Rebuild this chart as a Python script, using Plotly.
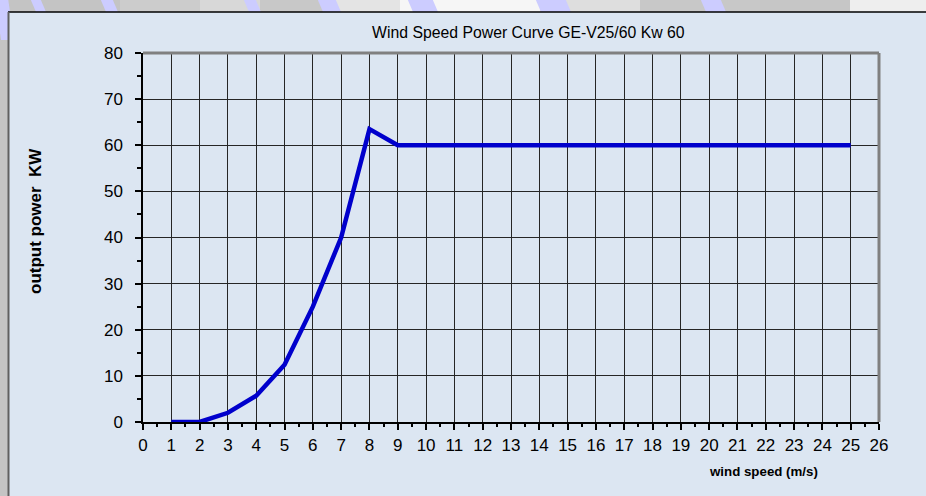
import plotly.graph_objects as go

wind_speed = [1, 2, 3, 4, 5, 6, 7, 8, 9, 10, 11, 12, 13, 14, 15, 16, 17, 18, 19, 20, 21, 22, 23, 24, 25]
power_kw = [0, 0, 2, 5.7, 12.4, 25, 40, 63.5, 60, 60, 60, 60, 60, 60, 60, 60, 60, 60, 60, 60, 60, 60, 60, 60, 60]
x_ticks = list(range(0, 27))
y_ticks = list(range(0, 81, 10))

title_text = "Wind Speed Power Curve GE-V25/60 Kw 60"
x_title = "wind speed (m/s)"
y_title = "output power&nbsp;&nbsp;KW"

W, H = 926, 496
L, R, T, B = 143, 47, 53, 74
PW, PH = W - L - R, H - T - B


def px(x):
    return (x - L) / PW


def py(y):
    return (H - B - y) / PH


fig = go.Figure()
fig.add_trace(go.Scatter(
    x=wind_speed, y=power_kw, mode="lines",
    line=dict(color="#0000CC", width=4.5),
    hoverinfo="x+y", showlegend=False,
))

shapes = []
bands = [(-10, 120, "#c4c4c4"), (120, 200, "#cccccc"), (200, 260, "#d8d8d8"), (260, 330, "#c8c8c8"),
         (330, 400, "#e4e4e4"), (400, 540, "#f6f6f6"), (540, 640, "#dedede"), (640, 760, "#c8c8c8"),
         (760, 850, "#c6c6c6"), (850, 936, "#eeeeee")]
for a, b, c in bands:
    shapes.append(dict(type="rect", xref="paper", yref="paper", x0=px(a), x1=px(b), y0=py(H + 10), y1=py(-10),
                       fillcolor=c, line=dict(width=0), layer="below"))
stripes = [(-5, -2, 8, 40), (30, -2, 40, 12), (100, -2, 112, 12), (243, -2, 255, 12), (317, -2, 335, 12),
           (407, -2, 432, 12), (535, -2, 565, 12), (700, -2, 720, 12)]
for x0, y0, x1, y1 in stripes:
    path = "M {a},{b} L {c},{b} L {d},{e} L {f},{e} Z".format(
        a=px(x0), b=py(y0), c=px(x1), d=px(x1 + 6), e=py(y1), f=px(x0 + 6))
    shapes.append(dict(type="path", xref="paper", yref="paper", path=path,
                       fillcolor="#ccccff", line=dict(width=0), layer="below"))
shapes.append(dict(type="rect", xref="paper", yref="paper", x0=px(8), x1=px(W + 5), y0=py(H + 5), y1=py(12),
                   fillcolor="#dce6f2", line=dict(width=0), layer="below"))
shapes.append(dict(type="line", xref="paper", yref="paper", x0=px(8), x1=px(W + 5), y0=py(12), y1=py(12),
                   line=dict(color="#000000", width=1.5), layer="below"))
shapes.append(dict(type="line", xref="paper", yref="paper", x0=px(8.5), x1=px(8.5), y0=py(12), y1=py(H + 5),
                   line=dict(color="#606060", width=2), layer="below"))
shapes.append(dict(type="line", xref="paper", yref="paper", x0=0, x1=1, y0=1, y1=1,
                   line=dict(color="#808080", width=3)))
shapes.append(dict(type="line", xref="paper", yref="paper", x0=1, x1=1, y0=0, y1=1,
                   line=dict(color="#808080", width=3)))

annotations = [
    dict(text=title_text, xref="paper", yref="paper", x=px(528), y=py(32), showarrow=False,
         xanchor="center", yanchor="middle", font=dict(size=15.8, color="#000000")),
    dict(text="<b>" + y_title + "</b>", xref="paper", yref="paper", x=px(35), y=py(221), showarrow=False,
         textangle=-90, xanchor="center", yanchor="middle", font=dict(size=17, color="#000000")),
    dict(text="<b>" + x_title + "</b>", xref="paper", yref="paper", x=px(763), y=py(471), showarrow=False,
         xanchor="center", yanchor="middle", font=dict(size=13.3, color="#000000")),
]

fig.update_layout(
    width=W, height=H,
    margin=dict(l=L, r=R, t=T, b=B, pad=0),
    paper_bgcolor="#c8c8c8",
    plot_bgcolor="#c0c0c0",
    font=dict(family="Liberation Sans, Arial, sans-serif", size=17, color="#000000"),
    shapes=shapes,
    annotations=annotations,
    showlegend=False,
    xaxis=dict(
        range=[0, 26], tickvals=x_ticks, ticktext=[str(v) for v in x_ticks],
        showgrid=True, gridcolor="#262626", gridwidth=1,
        showline=True, linecolor="#000000", linewidth=1.5,
        ticks="outside", ticklen=6, tickcolor="#000000", tickwidth=1.5,
        tickfont=dict(size=17), zeroline=False, ticklabelstandoff=1,
        minor=dict(dtick=0.5, tick0=0, ticks="outside", ticklen=3, tickcolor="#000000", showgrid=False),
        fixedrange=True,
    ),
    yaxis=dict(
        range=[0, 80], tickvals=y_ticks, ticktext=[str(v) for v in y_ticks],
        showgrid=True, gridcolor="#262626", gridwidth=1,
        showline=True, linecolor="#000000", linewidth=1.5,
        ticks="outside", ticklen=6, tickcolor="#000000", tickwidth=1.5,
        tickfont=dict(size=17), zeroline=False, ticklabelstandoff=9,
        minor=dict(dtick=5, tick0=0, ticks="outside", ticklen=4, tickcolor="#000000", showgrid=False),
        fixedrange=True,
    ),
)

fig.write_html("out.html", config={"displayModeBar": False},
               post_script="document.body.style.margin='0';")
